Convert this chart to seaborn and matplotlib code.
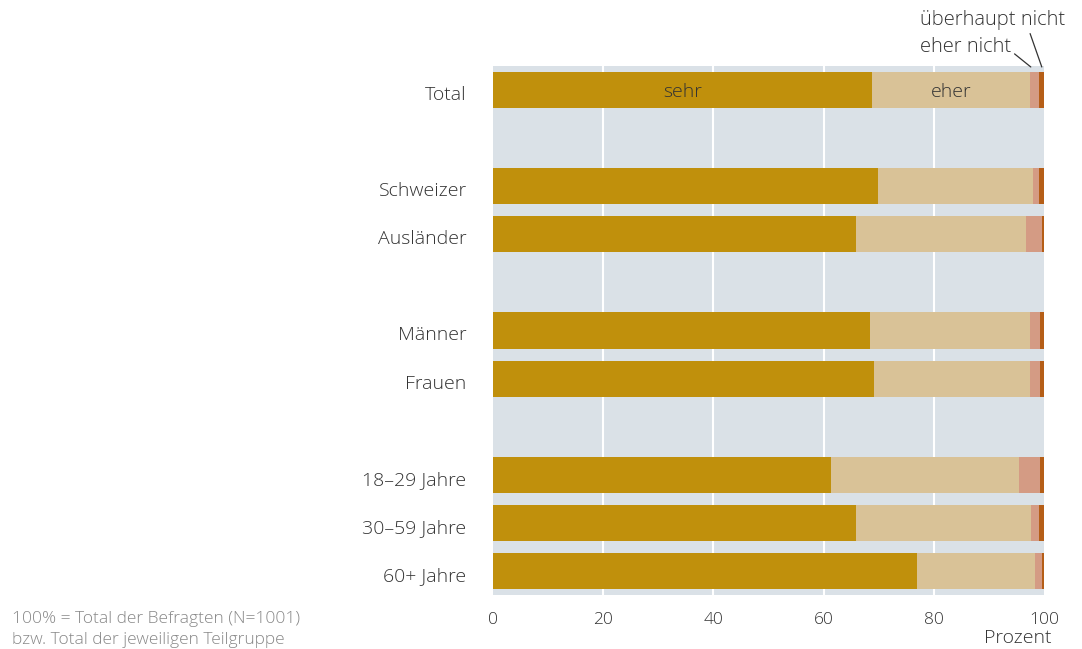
import matplotlib
matplotlib.use("Agg")
import matplotlib.pyplot as plt
import matplotlib.transforms as mtransforms
import seaborn as sns
import pandas as pd
import numpy as np

# ---- data ----
categories = ["Total", "", "Schweizer", "Ausländer", " ", "Männer", "Frauen", "  ",
              "18–29 Jahre", "30–59 Jahre", "60+ Jahre"]
sehr = [68.8, 0, 69.9, 65.9, 0, 68.4, 69.1, 0, 61.3, 65.9, 77.0]
eher = [28.7, 0, 28.1, 30.8, 0, 29.1, 28.4, 0, 34.2, 31.7, 21.4]
eher_nicht = [1.6, 0, 1.1, 2.9, 0, 1.8, 1.8, 0, 3.8, 1.5, 1.2]
ueberhaupt_nicht = [0.9, 0, 0.9, 0.4, 0, 0.7, 0.7, 0, 0.7, 0.9, 0.4]
tick_values = [0, 20, 40, 60, 80, 100]

colors = {"sehr": "#C0900C", "eher": "#D9C297", "eher nicht": "#D49B84",
          "überhaupt nicht": "#B55E17"}

df = pd.DataFrame({"cat": categories, "sehr": sehr, "eher": eher,
                   "eher nicht": eher_nicht, "überhaupt nicht": ueberhaupt_nicht})
series = ["sehr", "eher", "eher nicht", "überhaupt nicht"]
cum = df[series].cumsum(axis=1)

sns.set_theme(style="white")
plt.rcParams["font.family"] = ["Open Sans", "DejaVu Sans"]
plt.rcParams["font.weight"] = "light"
txt = "#333333"

fig = plt.figure(figsize=(10.82, 6.49), dpi=100)
ax = fig.add_axes([493/1082, 1-595/649, (1044-493)/1082, (595-66)/649])
ax.set_facecolor("#DAE1E7")

for s in reversed(series):
    sns.barplot(x=cum[s], y=df["cat"], order=categories, orient="h",
                color=colors[s], width=0.75, saturation=1, ax=ax, zorder=3,
                linewidth=0)

ax.set_xlim(0, 100)
ax.set_ylim(10.5, -0.5)
ax.set_xticks(tick_values)
ax.set_xticklabels([str(v) for v in tick_values], fontsize=12.5, color=txt)
ax.set_yticks(range(len(categories)))
ax.set_yticklabels(categories, fontsize=14, color=txt)
ax.tick_params(axis="y", length=0, pad=19)
ax.tick_params(axis="x", length=0, pad=12)
offset = mtransforms.ScaledTranslation(0, -3/100, fig.dpi_scale_trans)
for lab in ax.get_yticklabels():
    lab.set_transform(lab.get_transform() + offset)
ax.set_xlabel("")
ax.set_ylabel("")
for sp in ax.spines.values():
    sp.set_visible(False)
for v in [20, 40, 60, 80]:
    ax.axvline(v, color="white", lw=1.5, zorder=1)

# labels in Total bar
ax.text(sehr[0] / 2, 0.05, "sehr", ha="center", va="center", fontsize=14, color=txt, zorder=5)
ax.text(sehr[0] + eher[0] / 2, 0.05, "eher", ha="center", va="center", fontsize=14, color=txt, zorder=5)

# annotations
ax.annotate("überhaupt nicht", xy=(99.6, -0.48), xytext=(77.5, -1.45),
            ha="left", va="center", fontsize=14.5, color=txt, annotation_clip=False,
            arrowprops=dict(arrowstyle="-", color=txt, lw=0.9, shrinkA=0, shrinkB=0,
                            relpos=(0.75, 0.0)))
ax.annotate("eher nicht", xy=(97.6, -0.48), xytext=(77.5, -0.89),
            ha="left", va="center", fontsize=14.5, color=txt, annotation_clip=False,
            arrowprops=dict(arrowstyle="-", color=txt, lw=0.9, shrinkA=0, shrinkB=0,
                            relpos=(1.0, 0.3)))

fig.text(1018/1082, 1-638/649, "Prozent", ha="center", va="center", fontsize=14, color=txt)
fig.text(12/1082, 1-619/649, "100% = Total der Befragten (N=1001)", ha="left", va="center",
         fontsize=12.5, color="#888888")
fig.text(12/1082, 1-640/649, "bzw. Total der jeweiligen Teilgruppe", ha="left", va="center",
         fontsize=12.5, color="#888888")

fig.savefig("out.png", dpi=100)
